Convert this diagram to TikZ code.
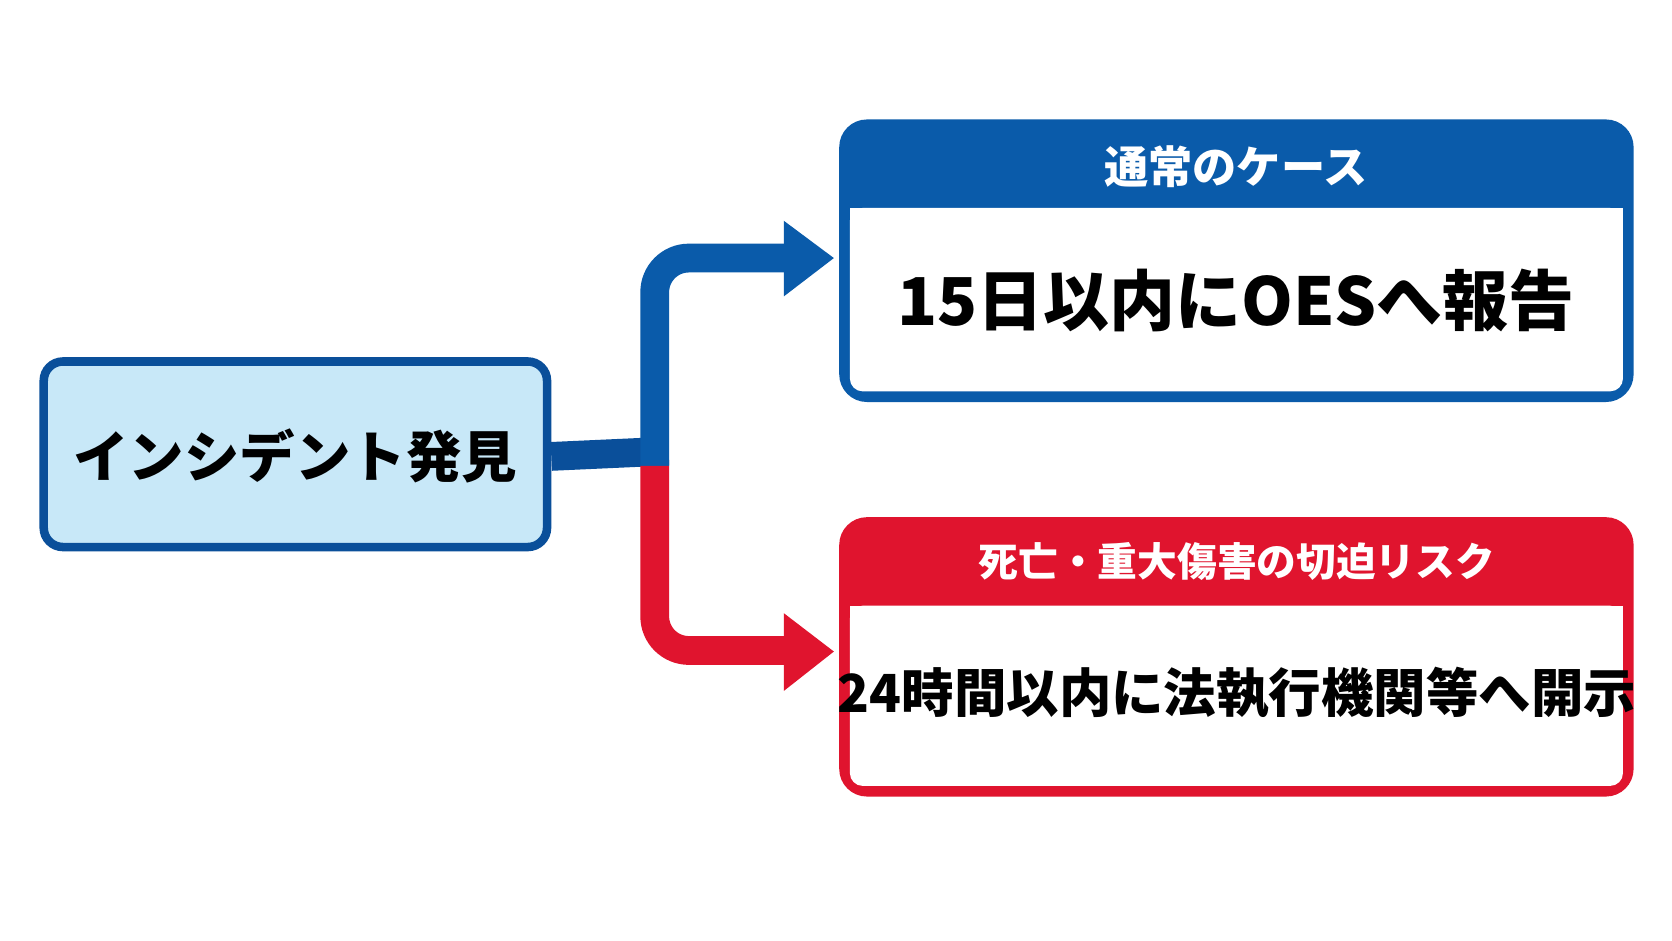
\documentclass[tikz,border=0pt]{standalone}
\usepackage{fontspec}
\setmainfont{Noto Sans CJK JP}
\begin{document}
\begin{tikzpicture}[x=0.05cm,y=-0.05cm,
  lbl/.style={font=\bfseries\fontsize{#1}{#1}\selectfont,inner sep=0},
  ]
\definecolor{bl}{HTML}{0A5BAA}\definecolor{dbl}{HTML}{0A4F9A}
\definecolor{rd}{HTML}{E0142E}\definecolor{lb}{HTML}{C8E8F8}
\useasboundingbox (0,0) rectangle (1568,882);
\fill[white] (0,0) rectangle (1568,882);
% left box
\draw[dbl,line width=0.4cm,fill=lb,rounded corners=0.9cm] (41,339) rectangle (513,513);
\node[lbl=74pt] (src) at (277,428) {インシデント発見};
% top box
\fill[bl,rounded corners=1.3cm] (787,112) rectangle (1532,377);
\fill[white,rounded corners=0.6cm] (797,195) rectangle (1522,367);
\fill[white] (797,195) rectangle (1522,230);
\node[lbl=59pt,white] (th) at (1159,156) {通常のケース};
\node[lbl=88pt] (tb) at (1159,282) {15日以内にOESへ報告};
% bottom box
\fill[rd,rounded corners=1.3cm] (787,485) rectangle (1532,747);
\fill[white,rounded corners=0.6cm] (797,568) rectangle (1522,737);
\fill[white] (797,568) rectangle (1522,600);
\node[lbl=53pt,white] (bh) at (1160,527) {死亡・重大傷害の切迫リスク};
\node[lbl=70pt] (bb) at (1160,650) {24時間以内に法執行機関等へ開示};
% connectors
\coordinate (j) at (614,423);
\draw[dbl,line width=1.35cm] (src.east -| 517,423) -- (627,423);
\draw[bl,line width=1.35cm,rounded corners=1.6cm] (614,437) -- (614,242) -- (740,242);
\fill[bl] (735,207) -- (782,242) -- (735,278) -- cycle;
\draw[rd,line width=1.35cm,rounded corners=1.6cm] (614,437) -- (614,610) -- (740,610);
\fill[rd] (735,575) -- (782,611) -- (735,648) -- cycle;
\end{tikzpicture}
\end{document}
